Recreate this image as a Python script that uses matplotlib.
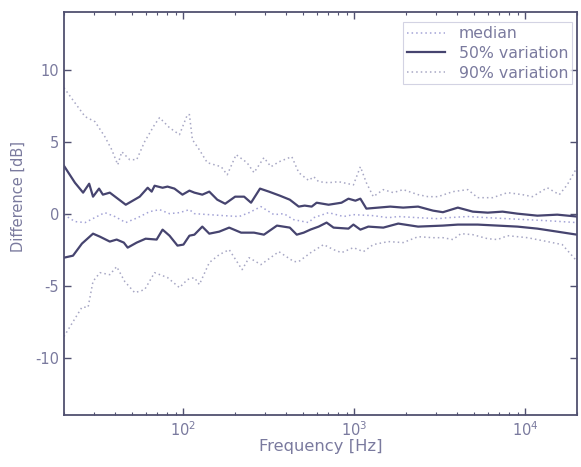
import matplotlib
matplotlib.use("Agg")
import matplotlib.pyplot as plt
from matplotlib.ticker import LogLocator, FixedLocator

plt.rcParams['axes.unicode_minus'] = False
plt.rcParams['font.family'] = ['DejaVu Sans']

# ---- data ----
f_up50 = [20, 23.2, 25.9, 28.1, 29.6, 32.1, 33.8, 37.1, 46.0, 55.5, 61.8, 65.2, 67.8, 75.5, 80.7,
          88.6, 98.7, 108.4, 115.9, 128.9, 141.6, 157.7, 175.4, 200.6, 226.4, 248.5, 280.4, 316.2,
          366.2, 418.8, 472.3, 511.7, 562.3, 601.2, 706.0, 840.0, 922.6, 1013, 1083, 1174, 1380,
          1620, 1927, 2356, 2880, 3291, 4024, 4919, 6012, 7346, 8977, 11740, 15350, 20000]
v_up50 = [3.33, 2.15, 1.46, 2.08, 1.18, 1.74, 1.32, 1.46, 0.62, 1.18, 1.80, 1.53, 1.94, 1.80, 1.88,
          1.74, 1.32, 1.60, 1.46, 1.32, 1.53, 0.97, 0.69, 1.18, 1.18, 0.76, 1.74, 1.53,
          1.25, 0.97, 0.49, 0.56, 0.49, 0.76, 0.62, 0.76, 1.04, 0.90, 1.04, 0.35, 0.42,
          0.49, 0.42, 0.49, 0.21, 0.10, 0.42, 0.14, 0.07, 0.14, 0.00, -0.14, -0.07, -0.20]

f_lo50 = [20, 22.6, 25.5, 29.6, 32.5, 37.1, 40.7, 44.8, 47.2, 53.3, 60.1, 69.7, 75.5, 82.9, 92.3,
          100, 108.4, 115.9, 128.9, 141.6, 161.9, 185.1, 217.4, 258.6, 295.6, 352.2, 418.8, 459.9,
          505.0, 554.9, 617.6, 687.3, 754.8, 922.6, 986.3, 1083, 1206, 1475, 1803, 2356, 3291,
          4024, 5258, 6873, 8977, 11740, 15350, 20000]
v_lo50 = [-3.06, -2.92, -2.08, -1.39, -1.60, -1.94, -1.80, -2.01, -2.36, -2.01, -1.74, -1.80, -1.11, -1.53, -2.22,
          -2.15, -1.53, -1.46, -0.90, -1.39, -1.25, -0.97, -1.32, -1.32, -1.46, -0.83, -0.97, -1.46,
          -1.32, -1.10, -0.90, -0.62, -0.97, -1.04, -0.76, -1.11, -0.90, -0.97, -0.69, -0.90, -0.83,
          -0.76, -0.76, -0.83, -0.90, -1.04, -1.25, -1.46]

f_med = [20, 23.2, 26.6, 31.2, 34.7, 39.7, 46.0, 54.0, 63.4, 72.5, 82.9, 94.8, 108.4, 115.9,
         141.6, 173.1, 211.6, 242.0, 284.0, 338.2, 386.5, 441.9, 540.2, 577.6, 706.0, 862.9,
         986.3, 1289, 1577, 1803, 2356, 3079, 3522, 4601, 6012, 7855, 10270, 13420, 20000]
v_med = [-0.07, -0.55, -0.62, -0.20, 0.07, -0.20, -0.62, -0.28, 0.14, 0.28, 0.00, 0.07, 0.28, 0.00,
         -0.07, -0.14, -0.20, 0.07, 0.49, -0.07, 0.00, -0.42, -0.62, -0.28, 0.07, -0.20,
         -0.07, -0.14, -0.28, -0.20, -0.28, -0.35, -0.28, -0.20, -0.28, -0.35, -0.42, -0.49, -0.62]

f_up90 = [20, 23.2, 26.6, 30.4, 34.7, 38.1, 41.3, 43.6, 48.5, 53.3, 59.3, 67.8, 72.5, 82.9, 94.8,
          105.5, 108.4, 112.8, 123.9, 137.9, 151.4, 166.3, 180.3, 203.3, 235.5, 258.6, 295.6,
          324.9, 361.4, 430.2, 472.3, 540.2, 577.6, 617.6, 706.0, 807.0, 986.3, 1083, 1174, 1289,
          1475, 1687, 1927, 2356, 2694, 3079, 3765, 4601, 5258, 6428, 7855, 9608, 10980, 13420,
          15780, 17540, 20000]
v_up90 = [8.75, 7.70, 6.74, 6.39, 5.35, 4.44, 3.40, 4.30, 3.75, 3.75, 5.00, 6.18, 6.67, 5.97, 5.49,
          6.88, 6.88, 5.14, 4.44, 3.54, 3.40, 3.26, 2.70, 4.10, 3.54, 2.85, 3.89,
          3.26, 3.60, 3.96, 2.85, 2.30, 2.57, 2.22, 2.15, 2.22, 2.00, 3.26, 2.15, 1.18,
          1.67, 1.46, 1.67, 1.32, 1.18, 1.18, 1.53, 1.67, 1.11, 1.11, 1.46, 1.32, 1.18, 1.80,
          1.32, 2.00, 3.20]

f_lo90 = [20, 25.5, 27.7, 29.6, 32.5, 37.1, 40.7, 45.4, 51.9, 59.3, 67.8, 80.7, 94.8, 105.5,
          115.9, 123.9, 141.6, 161.9, 185.1, 220.3, 242.0, 284.0, 361.4, 441.9, 472.3, 554.9,
          660.3, 754.8, 840.0, 986.3, 1128, 1289, 1577, 1927, 2356, 2880, 3291, 3765, 4191,
          4919, 6012, 6873, 7855, 10270, 13420, 16410, 20000]
v_lo90 = [-8.54, -6.50, -6.50, -4.70, -4.10, -4.24, -3.68, -4.72, -5.49, -5.28, -4.10, -4.44, -5.14, -4.58,
          -4.44, -4.93, -3.40, -2.85, -2.50, -3.89, -3.06, -3.54, -2.64, -3.33, -3.33, -2.71,
          -2.15, -2.50, -2.71, -2.36, -2.64, -2.15, -1.94, -2.01, -1.60, -1.67, -1.67, -1.80, -1.39,
          -1.46, -1.74, -1.80, -1.53, -1.67, -1.94, -2.15, -3.30]

y_ticks = [-10, -5, 0, 5, 10]
x_ticks = [1e2, 1e3, 1e4]

# ---- styling ----
solid_c = '#46446f'
med_c = '#a3a3d6'
v90_c = '#a7a7c4'
text_c = '#7a7a9e'
spine_c = '#505070'

fig = plt.figure(figsize=(5.81, 4.67), dpi=100)
ax = fig.add_axes([0.110, 0.111, 0.883, 0.863])

ax.semilogx(f_med, v_med, linestyle=(0, (1, 2)), color=med_c, lw=1.1, label='median')
ax.semilogx(f_up50, v_up50, '-', color=solid_c, lw=1.6, label='50% variation')
ax.semilogx(f_lo50, v_lo50, '-', color=solid_c, lw=1.6)
ax.semilogx(f_up90, v_up90, linestyle=(0, (1, 2)), color=v90_c, lw=1.1, label='90% variation')
ax.semilogx(f_lo90, v_lo90, linestyle=(0, (1, 2)), color=v90_c, lw=1.1)

ax.set_xlim(20, 20000)
ax.set_ylim(-14, 14)
ax.yaxis.set_major_locator(FixedLocator(y_ticks))
ax.xaxis.set_major_locator(FixedLocator(x_ticks))
ax.xaxis.set_minor_locator(LogLocator(base=10, subs=range(2, 10), numticks=20))
ax.set_xticklabels([r'$10^{2}$', r'$10^{3}$', r'$10^{4}$'])

ax.tick_params(which='both', direction='in', top=True, right=True, colors=spine_c,
               labelcolor=text_c, labelsize=10.5)
ax.tick_params(which='major', length=5, width=1)
ax.tick_params(which='minor', length=2.5, width=0.8)
for s in ax.spines.values():
    s.set_color(spine_c)
    s.set_linewidth(1.3)

ax.set_xlabel('Frequency [Hz]', color=text_c, fontsize=11.8, labelpad=0)
ax.set_ylabel('Difference [dB]', color=text_c, fontsize=10.5)
ax.yaxis.set_label_coords(-0.074, 0.543)

leg = ax.legend(loc='upper left', bbox_to_anchor=(0.661, 0.975), fontsize=11.3,
                frameon=True, fancybox=False, handlelength=2.4, borderpad=0.25,
                labelspacing=0.3, handletextpad=0.9, borderaxespad=0.0)
leg.get_frame().set_edgecolor('#c8c8dc')
leg.get_frame().set_linewidth(0.8)
for t in leg.get_texts():
    t.set_color(text_c)

fig.savefig('out.png', dpi=100)
